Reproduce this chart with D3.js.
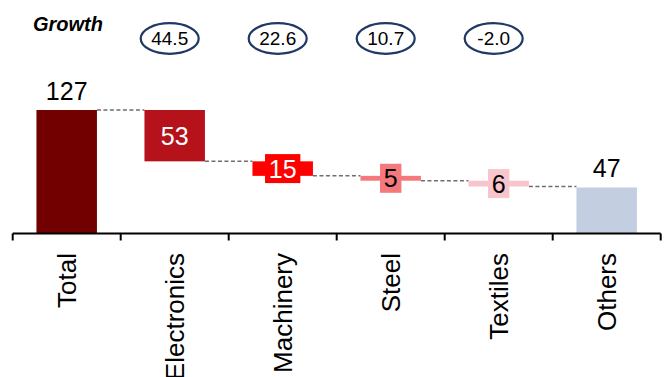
<!DOCTYPE html>
<html>
<head>
<meta charset="utf-8">
<script src="https://cdn.jsdelivr.net/npm/d3@7"></script>
<style>
  html, body { margin: 0; padding: 0; background: #fff; }
  svg { display: block; font-family: "Liberation Sans", Arial, sans-serif; }
</style>
</head>
<body>
<svg id="chart" width="669" height="377"></svg>
<script>
// Waterfall: total, its breakdown by sector, and the remainder
const categories = ["Total", "Electronics", "Machinery", "Steel", "Textiles", "Others"];
const values     = [127, 53, 15, 5, 6, 47];
const kinds      = ["total", "step", "step", "step", "step", "total"];
const colors     = ["#720000", "#b5121b", "#ff0000", "#f4787c", "#f9c5cc", "#c3cfe1"];
const labelColors = ["#000", "#fff", "#fff", "#000", "#000", "#000"];

// Growth figures shown in ovals above the sector steps
const growthCategories = ["Electronics", "Machinery", "Steel", "Textiles"];
const growthValues     = ["44.5", "22.6", "10.7", "-2.0"];

const svg = d3.select("#chart");

const x = d3.scaleBand()
  .domain(categories)
  .range([12.7, 660.7])
  .paddingInner(0.44)
  .paddingOuter(0.22);

const y = d3.scaleLinear()
  .domain([0, 127])
  .range([233, 110]);

// Compute start/end level of each bar
let level = 0;
const bars = categories.map((c, i) => {
  let y0, y1;
  if (kinds[i] === "total") {
    y0 = 0; y1 = values[i];
    level = values[i];
  } else {
    y1 = level; y0 = level - values[i];
    level = y0;
  }
  return { cat: c, value: values[i], y0, y1, kind: kinds[i], color: colors[i], labelColor: labelColors[i] };
});

// Dashed connectors between consecutive bars
const connectors = bars.slice(0, -1).map((b, i) => {
  const next = bars[i + 1];
  const yLevel = b.kind === "total" && i === 0 ? b.y1 : b.y0;
  return { x1: x(b.cat) + x.bandwidth(), x2: x(next.cat), y: yLevel };
});

svg.append("g").selectAll("line")
  .data(connectors)
  .join("line")
  .attr("x1", d => d.x1)
  .attr("x2", d => d.x2)
  .attr("y1", d => y(d.y))
  .attr("y2", d => y(d.y))
  .attr("stroke", "#6e6e6e")
  .attr("stroke-width", 1.5)
  .attr("stroke-dasharray", "4,2.5");

// Bars
svg.append("g").selectAll("rect")
  .data(bars)
  .join("rect")
  .attr("x", d => x(d.cat))
  .attr("width", x.bandwidth())
  .attr("y", d => y(d.y1))
  .attr("height", d => y(d.y0) - y(d.y1))
  .attr("fill", d => d.color);

// Value labels: above totals, boxed on the steps
const fontSize = 25;
const labels = svg.append("g");
bars.forEach(b => {
  const cx = x(b.cat) + x.bandwidth() / 2;
  if (b.kind === "total") {
    labels.append("text")
      .attr("x", cx)
      .attr("y", y(b.y1) - 10.5)
      .attr("text-anchor", "middle")
      .attr("font-size", fontSize)
      .attr("fill", "#000")
      .text(b.value);
  } else {
    const cy = (y(b.y0) + y(b.y1)) / 2;
    const g = labels.append("g");
    const t = g.append("text")
      .attr("x", cx)
      .attr("y", cy)
      .attr("dy", "0.36em")
      .attr("text-anchor", "middle")
      .attr("font-size", fontSize)
      .attr("fill", b.labelColor)
      .text(b.value);
    const w = t.node().getComputedTextLength() + 7.5;
    const h = 29;
    g.insert("rect", "text")
      .attr("x", cx - w / 2)
      .attr("y", cy - h / 2)
      .attr("width", w)
      .attr("height", h)
      .attr("fill", b.color);
  }
});

// Category axis with ticks between bands
const axisY = 233.5;
const r = x.range();
svg.append("line")
  .attr("x1", r[0]).attr("x2", r[1])
  .attr("y1", axisY).attr("y2", axisY)
  .attr("stroke", "#000").attr("stroke-width", 2);

const tickPositions = d3.range(categories.length + 1).map(i => r[0] + i * x.step());
svg.append("g").selectAll("line")
  .data(tickPositions)
  .join("line")
  .attr("x1", d => d).attr("x2", d => d)
  .attr("y1", axisY).attr("y2", axisY + 7)
  .attr("stroke", "#000").attr("stroke-width", 2);

svg.append("g").selectAll("text")
  .data(categories)
  .join("text")
  .attr("transform", d => `translate(${x(d) + x.bandwidth() / 2},253) rotate(-90)`)
  .attr("dy", "0.36em")
  .attr("text-anchor", "end")
  .attr("font-size", 26)
  .attr("fill", "#000")
  .text(d => d);

// Growth row
svg.append("text")
  .attr("x", 33)
  .attr("y", 31)
  .attr("font-size", 20)
  .attr("font-weight", "bold")
  .attr("font-style", "italic")
  .attr("fill", "#000")
  .text("Growth");

const growth = svg.append("g").selectAll("g")
  .data(growthCategories.map((c, i) => ({ cat: c, v: growthValues[i] })))
  .join("g")
  .attr("transform", d => `translate(${x(d.cat) + x.bandwidth() / 2 - 5},38.5)`);

growth.append("ellipse")
  .attr("rx", 29)
  .attr("ry", 15.3)
  .attr("fill", "#fff")
  .attr("stroke", "#1f3864")
  .attr("stroke-width", 2.2);

growth.append("text")
  .attr("text-anchor", "middle")
  .attr("dy", "0.36em")
  .attr("font-size", 19)
  .attr("fill", "#000")
  .text(d => d.v);
</script>
</body>
</html>
